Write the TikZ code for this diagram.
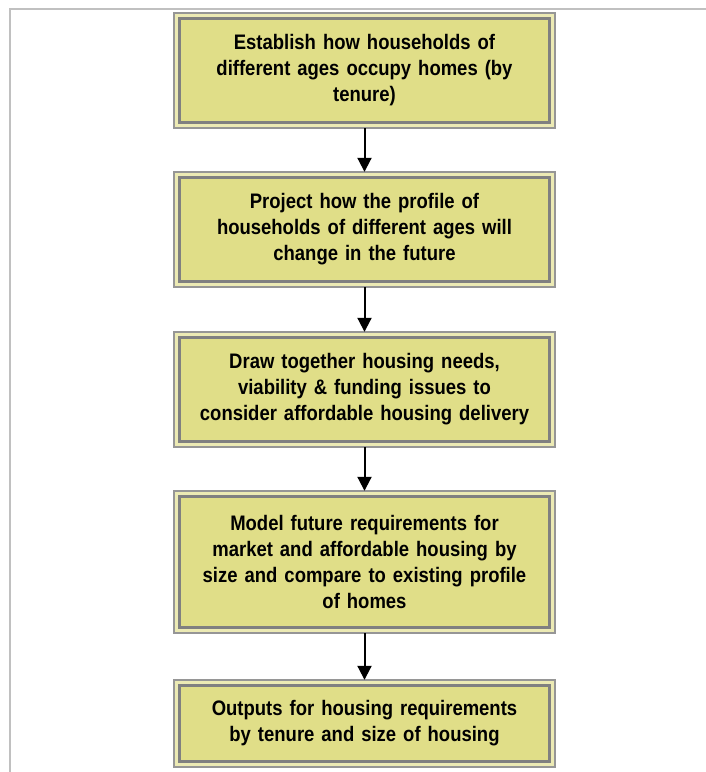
\documentclass[tikz,border=0pt]{standalone}
\usepackage{fontspec}
\setmainfont{Liberation Sans}[FakeStretch=0.88,WordSpace=0.75]
\usetikzlibrary{arrows.meta}
\definecolor{boxfill}{RGB}{224,222,136}
\definecolor{boxgap}{RGB}{236,234,180}
\definecolor{outerline}{RGB}{150,150,150}
\definecolor{innerline}{RGB}{128,128,128}
\definecolor{frameline}{RGB}{192,192,192}
\tikzset{
  box/.style={fill=boxgap, minimum width=381pt, text width=360pt, align=center,
    inner sep=0pt, font=\fontsize{21pt}{26pt}\selectfont\bfseries},
  outerb/.style={draw=outerline, line width=2.4pt},
  innerb/.style={draw=innerline, line width=3pt, fill=boxfill},
  flow/.style={draw=black, line width=2pt, -{Triangle[width=14pt,length=14pt]}},
  frame/.style={draw=frameline, line width=2pt}
}
\begin{document}
\begin{tikzpicture}[x=1pt,y=-1pt]
\useasboundingbox (0,0) rectangle (706,772);
\draw[frame] (706,9) -- (10,9) -- (10,772);
\node[box, minimum height=115pt] (b1) at (364.5,70.5) {};
\node[box, minimum height=115pt] (b2) at (364.5,229.5) {};
\node[box, minimum height=115pt] (b3) at (364.5,389.5) {};
\node[box, minimum height=142pt] (b4) at (364.5,562) {};
\node[box, minimum height=87pt] (b5) at (364.5,723.5) {};
\foreach \b in {b1,b2,b3,b4,b5}{
  \draw[outerb] (\b.north west) rectangle (\b.south east);
  \draw[innerb] ([shift={(5.5,5.5)}]\b.north west) rectangle ([shift={(-5.5,-5.5)}]\b.south east);
}
\node[box, fill=none] (t1) at (b1) {Establish how households of\\ different ages occupy homes (by\\ tenure)};
\node[box, fill=none] (t2) at (b2) {Project how the profile of\\ households of different ages will\\ change in the future};
\node[box, fill=none] (t3) at (b3) {Draw together housing needs,\\ viability \& funding issues to\\ consider affordable housing delivery};
\node[box, fill=none] (t4) at (b4) {Model future requirements for\\ market and affordable housing by\\ size and compare to existing profile\\ of homes};
\node[box, fill=none] (t5) at (b5) {Outputs for housing requirements\\ by tenure and size of housing};
\draw[flow] (b1.south) -- (b2.north);
\draw[flow] (b2.south) -- (b3.north);
\draw[flow] (b3.south) -- (b4.north);
\draw[flow] (b4.south) -- (b5.north);
\end{tikzpicture}
\end{document}
